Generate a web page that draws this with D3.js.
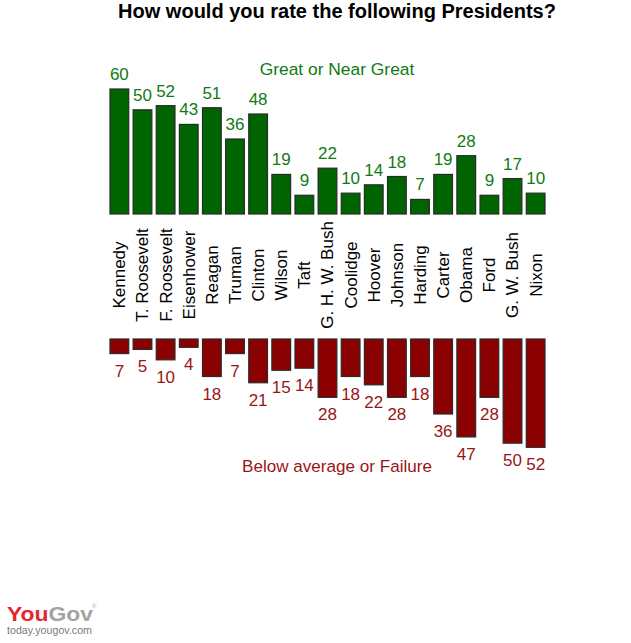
<!DOCTYPE html>
<html>
<head>
<meta charset="utf-8">
<script src="https://cdn.jsdelivr.net/npm/d3@7"></script>
<style>
  html, body { margin: 0; padding: 0; background: #fff; }
  svg { display: block; font-family: "Liberation Sans", Arial, Helvetica, sans-serif; }
</style>
</head>
<body>
<svg id="chart" width="631" height="643"></svg>
<script>
const presidents = ["Kennedy", "T. Roosevelt", "F. Roosevelt", "Eisenhower", "Reagan", "Truman", "Clinton", "Wilson", "Taft", "G. H. W. Bush", "Coolidge", "Hoover", "Johnson", "Harding", "Carter", "Obama", "Ford", "G. W. Bush", "Nixon"];
const greatValues = [60, 50, 52, 43, 51, 36, 48, 19, 9, 22, 10, 14, 18, 7, 19, 28, 9, 17, 10];
const failureValues = [7, 5, 10, 4, 18, 7, 21, 15, 14, 28, 18, 22, 28, 18, 36, 47, 28, 50, 52];
const titleText = "How would you rate the following Presidents?";
const greatLabel = "Great or Near Great";
const failureLabel = "Below average or Failure";

const svg = d3.select("#chart");

const x = d3.scaleBand()
  .domain(presidents)
  .range([107.8, 547.2])
  .paddingInner(0.19)
  .paddingOuter(0.095);

const yTop = d3.scaleLinear().domain([0, 60]).range([214, 89]);
const yBot = d3.scaleLinear().domain([0, 60]).range([339, 464]);

const green = "#006400", greenText = "#127a12";
const red = "#8b0000", redText = "#991515";
const cx = 337;

// Title
svg.append("text")
  .attr("x", cx).attr("y", 18)
  .attr("text-anchor", "middle")
  .attr("font-size", 20).attr("font-weight", "bold")
  .attr("fill", "#000")
  .text(titleText);

// Top bars
svg.append("g").selectAll("rect")
  .data(presidents)
  .join("rect")
  .attr("x", d => x(d))
  .attr("width", x.bandwidth())
  .attr("y", (d, i) => yTop(greatValues[i]))
  .attr("height", (d, i) => yTop(0) - yTop(greatValues[i]))
  .attr("fill", green)
  .attr("stroke", "#2a2a2a")
  .attr("stroke-width", 1.2);

svg.append("g").selectAll("text")
  .data(presidents)
  .join("text")
  .attr("x", d => x(d) + x.bandwidth() / 2)
  .attr("y", (d, i) => yTop(greatValues[i]) - 9)
  .attr("text-anchor", "middle")
  .attr("font-size", 17)
  .attr("fill", greenText)
  .text((d, i) => greatValues[i]);

svg.append("text")
  .attr("x", cx).attr("y", 75)
  .attr("text-anchor", "middle")
  .attr("font-size", 17.4)
  .attr("fill", greenText)
  .text(greatLabel);

// Category labels
svg.append("g").selectAll("text")
  .data(presidents)
  .join("text")
  .attr("transform", d => `translate(${x(d) + x.bandwidth() / 2},275) rotate(-90)`)
  .attr("text-anchor", "middle")
  .attr("dy", "0.35em")
  .attr("font-size", 17)
  .attr("fill", "#000")
  .text(d => d);

// Bottom bars
svg.append("g").selectAll("rect")
  .data(presidents)
  .join("rect")
  .attr("x", d => x(d))
  .attr("width", x.bandwidth())
  .attr("y", yBot(0))
  .attr("height", (d, i) => yBot(failureValues[i]) - yBot(0))
  .attr("fill", red)
  .attr("stroke", "#2a2a2a")
  .attr("stroke-width", 1.2);

svg.append("g").selectAll("text")
  .data(presidents)
  .join("text")
  .attr("x", d => x(d) + x.bandwidth() / 2)
  .attr("y", (d, i) => yBot(failureValues[i]) + 23)
  .attr("text-anchor", "middle")
  .attr("font-size", 17)
  .attr("fill", redText)
  .text((d, i) => failureValues[i]);

svg.append("text")
  .attr("x", cx).attr("y", 472)
  .attr("text-anchor", "middle")
  .attr("font-size", 17.1)
  .attr("fill", redText)
  .text(failureLabel);

// YouGov logo
const logo = svg.append("g");
const lt = logo.append("text")
  .attr("x", 7).attr("y", 620.5)
  .attr("font-size", 20.5).attr("font-weight", "bold")
  .attr("textLength", 86)
  .attr("lengthAdjust", "spacingAndGlyphs");
lt.append("tspan").attr("fill", "#e4262b").text("You");
lt.append("tspan").attr("fill", "#a3a3a3").text("Gov");
logo.append("text")
  .attr("x", 92).attr("y", 608)
  .attr("font-size", 6).attr("fill", "#a3a3a3")
  .text("®");
logo.append("text")
  .attr("x", 7).attr("y", 633.5)
  .attr("font-size", 11.5)
  .attr("fill", "#7a7a7a")
  .attr("textLength", 85)
  .attr("lengthAdjust", "spacingAndGlyphs")
  .text("today.yougov.com");
</script>
</body>
</html>
